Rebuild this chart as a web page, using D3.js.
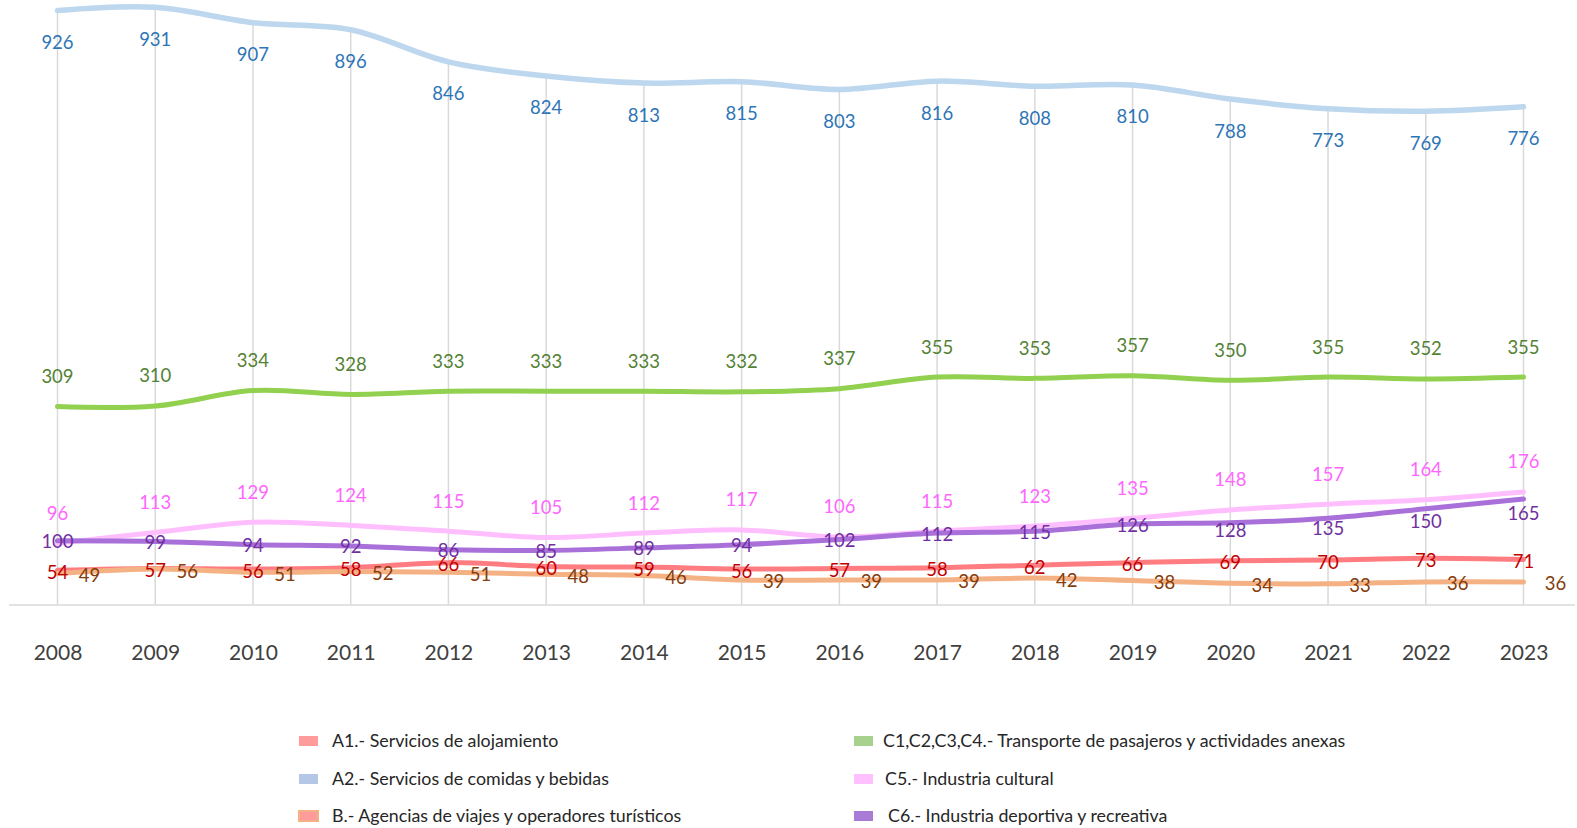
<!DOCTYPE html>
<html>
<head>
<meta charset="utf-8">
<script src="https://cdn.jsdelivr.net/npm/d3@7"></script>
<style>
  body { margin: 0; background: #fff; }
  svg { display: block; font-family: Lato, "Open Sans", sans-serif; }
</style>
</head>
<body>
<div id="chart"></div>
<script>
// data
var years = ['2008', '2009', '2010', '2011', '2012', '2013', '2014', '2015',
             '2016', '2017', '2018', '2019', '2020', '2021', '2022', '2023']

var a1 = [54, 57, 56, 58, 66, 60, 59, 56, 57, 58, 62, 66, 69, 70, 73, 71]
var a2 = [926, 931, 907, 896, 846, 824, 813, 815, 803, 816, 808, 810, 788, 773, 769, 776]
var b = [49, 56, 51, 52, 51, 48, 46, 39, 39, 39, 42, 38, 34, 33, 36, 36]
var c14 = [309, 310, 334, 328, 333, 333, 333, 332, 337, 355, 353, 357, 350, 355, 352, 355]
var c5 = [96, 113, 129, 124, 115, 105, 112, 117, 106, 115, 123, 135, 148, 157, 164, 176]
var c6 = [100, 99, 94, 92, 86, 85, 89, 94, 102, 112, 115, 126, 128, 135, 150, 165]

var seriesNames = [
    'A1.- Servicios de alojamiento',
    'A2.- Servicios de comidas y bebidas',
    'B.- Agencias de viajes y operadores turísticos',
    'C1,C2,C3,C4.- Transporte de pasajeros y actividades anexas',
    'C5.- Industria cultural',
    'C6.- Industria deportiva y recreativa'
]

// styling per series (line colour, label colour, label offset)
var series = [
    { name: seriesNames[0], values: a1, line: '#FF7C80', swatch: '#FF9B9B', label: '#C00000', dx: 0, dy: 2 },
    { name: seriesNames[1], values: a2, line: '#BDD7EE', swatch: '#B4C7E7', label: '#2E75B6', dx: 0, dy: 32 },
    { name: seriesNames[2], values: b, line: '#F4B183', swatch: '#FF9B9B', border: '#F4B183', label: '#843C0C', dx: 32, dy: 2 },
    { name: seriesNames[3], values: c14, line: '#92D050', swatch: '#A9D18E', label: '#548235', dx: 0, dy: -30 },
    { name: seriesNames[4], values: c5, line: '#FFBFFF', swatch: '#FFC0FF', label: '#FF66FF', dx: 0, dy: -30 },
    { name: seriesNames[5], values: c6, line: '#A870D8', swatch: '#A97BD6', label: '#7030A0', dx: 0, dy: 1 }
]
// a few purple labels were pushed down in the original
var c6Nudge = { '2020': 7, '2021': 9, '2022': 12, '2023': 13 }

var width = 1577,
    height = 828

var svg = d3.select('#chart')
    .append('svg')
    .attr('width', width)
    .attr('height', height)

svg.append('rect').attr('width', width).attr('height', height).attr('fill', '#fff')

var x = d3.scalePoint().domain(years).range([57.5, 1523.5])
var y = d3.scaleLinear().domain([0, 1000]).range([605, -37])

// drop lines from highest point to the axis
svg.append('g')
    .selectAll('line')
    .data(years)
    .enter()
    .append('line')
    .attr('x1', d => x(d))
    .attr('x2', d => x(d))
    .attr('y1', (d, i) => y(d3.max(series, s => s.values[i])))
    .attr('y2', y(0))
    .attr('stroke', '#D9D9D9')
    .attr('stroke-width', 1.5)

// category axis
svg.append('line')
    .attr('x1', 9).attr('x2', 1575)
    .attr('y1', y(0)).attr('y2', y(0))
    .attr('stroke', '#D9D9D9')
    .attr('stroke-width', 1.5)

var xAxis = svg.append('g')
    .attr('transform', `translate(0,${y(0)})`)
    .call(d3.axisBottom(x).tickSize(0).tickPadding(40))
xAxis.select('.domain').remove()
xAxis.selectAll('text')
    .style('font-family', 'Lato, sans-serif')
    .style('font-size', '21px')
    .attr('fill', '#404040')

var line = d3.line()
    .x((d, i) => x(years[i]))
    .y(d => y(d))
    .curve(d3.curveCardinal.tension(0))

svg.append('g')
    .selectAll('path')
    .data(series)
    .enter()
    .append('path')
    .attr('d', d => line(d.values))
    .attr('fill', 'none')
    .attr('stroke', d => d.line)
    .attr('stroke-width', (d, i) => i == 1 ? 5.5 : 5)
    .attr('stroke-linecap', 'round')
    .attr('stroke-linejoin', 'round')

// data labels
series.forEach(function (s, si) {
    svg.append('g')
        .selectAll('text')
        .data(s.values)
        .enter()
        .append('text')
        .attr('x', (d, i) => x(years[i]) + s.dx)
        .attr('y', (d, i) => y(d) + s.dy + (si == 5 ? (c6Nudge[years[i]] || 0) : 0))
        .attr('dy', '0.35em')
        .attr('text-anchor', 'middle')
        .attr('font-size', 18.5)
        .attr('fill', s.label)
        .text(d => d)
})

// legend
var legendPos = [
    { sx: 299, tx: 332, y: 741 },
    { sx: 299, tx: 332, y: 779 },
    { sx: 299, tx: 332, y: 816 },
    { sx: 854, tx: 883, y: 741 },
    { sx: 854, tx: 885, y: 779 },
    { sx: 854, tx: 888, y: 816 }
]
var legend = svg.append('g').attr('class', 'legend')
series.forEach(function (s, i) {
    var p = legendPos[i]
    legend.append('rect')
        .attr('x', p.sx)
        .attr('y', p.y - 5)
        .attr('width', 19)
        .attr('height', 10)
        .attr('fill', s.swatch)
        .attr('stroke', s.border || 'none')
        .attr('stroke-width', s.border ? 2 : 0)
    legend.append('text')
        .attr('x', p.tx)
        .attr('y', p.y)
        .attr('dy', '0.35em')
        .attr('font-size', 17.8)
        .attr('fill', '#262626')
        .text(s.name)
})
</script>
</body>
</html>
